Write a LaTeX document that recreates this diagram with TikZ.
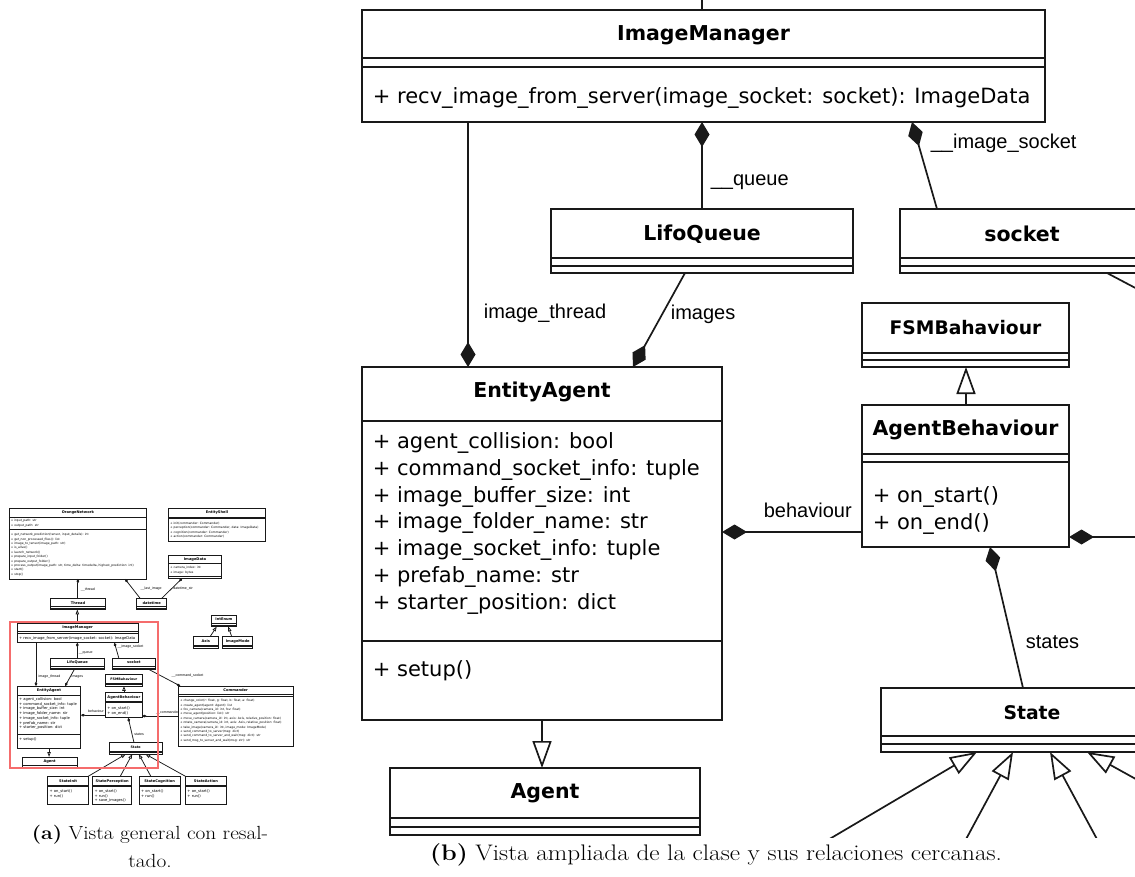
\documentclass[tikz,border=0pt]{standalone}
\usepackage{fontspec}
\usetikzlibrary{arrows.meta}
\newfontfamily\umlfont{DejaVu Sans}
\newfontfamily\lblfont{Liberation Sans}
\newfontfamily\capfont[FakeStretch=1.12]{Latin Modern Roman}
\definecolor{umlline}{RGB}{25,25,25}
\definecolor{hilite}{RGB}{245,108,108}

% one left-aligned column of member lines
\newcommand{\mrows}[1]{\begin{tabular}{@{}l@{}}#1\end{tabular}}
% size factor for arrow tips (changed per view)
\newcommand{\tipsc}{1}
% texts of classes lying outside the enlarged view are only set in the overview
\newif\iffullview
\newcommand{\offpanel}[1]{\iffullview#1\fi}

\tikzset{
  cls/.style={draw=umlline, fill=white, rectangle, inner sep=0pt, outer sep=0pt, anchor=north west},
  ctitle/.style={font=\umlfont\bfseries\fontsize{20.5}{24}\selectfont, inner sep=0pt},
  cmember/.style={font=\umlfont\fontsize{21}{26.7}\selectfont, inner sep=0pt, anchor=north west},
  csmall/.style={font=\umlfont\fontsize{17}{24.8}\selectfont, inner sep=0pt, anchor=north west},
  rlabel/.style={font=\lblfont\fontsize{20}{24}\selectfont, inner sep=0pt, anchor=west},
  sepline/.style={draw=umlline},
  comp/.style={draw=umlline, {Diamond[length=25pt,width=15pt,scale=\tipsc]}-},
  inh/.style={draw=umlline, -{Triangle[open,length=27pt,width=19pt,scale=\tipsc]}},
  capstyle/.style={inner sep=0pt},
}

% class box: name, x1, y1, x2, y2, title
\newcommand{\umlbox}[6]{%
  \node[cls, minimum width={((#4)-(#2))*1pt}, minimum height={((#5)-(#3))*1pt}] (#1) at (#2,#3) {};
  \node[ctitle] (#1-t) at ({((#2)+(#4))/2},{(#3)+25}) {#6};}
% compartment separator of a class box at height y
\newcommand{\clsep}[2]{\draw[sepline] (#1.west |- 0,#2) -- (#1.east |- 0,#2);}

\newcommand{\umldiagram}{%
  % ---------------- classes
  \umlbox{on}{315}{-639}{1095}{-239}{\offpanel{OrangeNetwork}}
  \clsep{on}{-588}\clsep{on}{-522}
  \offpanel{%
  \node[csmall] (on-a) at (325,-580.4) {\mrows{+ input\_path: str\\+ output\_path: str}};
  \node[csmall] (on-m) at (325,-501.4) {\mrows{%
    + get\_network\_prediction(tensor, input\_details): int\\
    + get\_non\_processed\_files(): list\\
    + image\_to\_tensor(image\_path: str)\\
    + is\_alive()\\
    + launch\_network()\\
    + prepare\_input\_folder()\\
    + prepare\_output\_folder()\\
    + process\_output(image\_path: str, time\_delta: timedelta, highest\_prediction: int)\\
    + start()\\
    + stop()}};}
  \umlbox{es}{1217}{-639}{1768}{-450}{\offpanel{EntityShell}}
  \clsep{es}{-588}\clsep{es}{-580}
  \offpanel{%
  \node[csmall] (es-m) at (1227,-566.4) {\mrows{%
    + init(commander: Commander)\\
    + perception(commander: Commander, data: ImageData)\\
    + cognition(commander: Commander)\\
    + action(commander: Commander)}};}
  \umlbox{idt}{1217}{-375}{1519}{-243}{\offpanel{ImageData}}
  \clsep{idt}{-326}\clsep{idt}{-256}
  \offpanel{%
  \node[csmall] (idt-a) at (1227,-313.4) {\mrows{+ camera\_index: int\\+ image: bytes}};}
  \umlbox{th}{551}{-130}{860}{-66}{\offpanel{Thread}}
  \clsep{th}{-82}\clsep{th}{-74}
  \umlbox{dt}{1038}{-130}{1208}{-66}{\offpanel{datetime}}
  \clsep{dt}{-82}\clsep{dt}{-74}
  \umlbox{im}{362}{10}{1045}{122}{ImageManager}
  \clsep{im}{58}\clsep{im}{67}
  \node[cmember] (im-m) at (372,84.3) {\mrows{+ recv\_image\_from\_server(image\_socket: socket): ImageData}};
  \umlbox{lq}{551}{209}{853}{273}{LifoQueue}
  \clsep{lq}{258}\clsep{lq}{266}
  \umlbox{so}{900}{209}{1144}{273}{socket}
  \clsep{so}{258}\clsep{so}{266}
  \umlbox{fsm}{862}{303}{1069}{367}{\fontsize{18.7}{22}\selectfont FSMBahaviour}
  \clsep{fsm}{353}\clsep{fsm}{360}
  \umlbox{ab}{862}{405}{1069}{547}{AgentBehaviour}
  \clsep{ab}{454}\clsep{ab}{462}
  \node[cmember] (ab-m) at (872,483.3) {\mrows{+ on\_start()\\+ on\_end()}};
  \umlbox{ea}{362}{367}{722}{720}{EntityAgent}
  \clsep{ea}{421}\clsep{ea}{641}
  \node[cmember] (ea-a) at (372,429.3) {\mrows{%
    + agent\_collision: bool\\
    + command\_socket\_info: tuple\\
    + image\_buffer\_size: int\\
    + image\_folder\_name: str\\
    + image\_socket\_info: tuple\\
    + prefab\_name: str\\
    + starter\_position: dict}};
  \node[cmember] (ea-m) at (372,657.3) {\mrows{+ setup()}};
  \umlbox{ag}{390}{768}{700}{835}{Agent}
  \clsep{ag}{818}\clsep{ag}{827}
  \umlbox{st}{881}{688}{1183}{752}{\fontsize{18.8}{22}\selectfont State}
  \clsep{st}{736}\clsep{st}{744}
  \umlbox{si}{535}{880}{765}{1035}{\offpanel{StateInit}}
  \clsep{si}{928}\clsep{si}{936}
  \umlbox{sp}{789}{880}{1010}{1035}{\offpanel{StatePerception}}
  \clsep{sp}{928}\clsep{sp}{936}
  \umlbox{sc}{1053}{880}{1283}{1035}{\offpanel{StateCognition}}
  \clsep{sc}{928}\clsep{sc}{936}
  \umlbox{sa}{1315}{880}{1545}{1035}{\offpanel{StateAction}}
  \clsep{sa}{928}\clsep{sa}{936}
  \offpanel{%
  \node[cmember] (si-m) at (545,950.3) {\mrows{+ on\_start()\\+ run()}};
  \node[cmember] (sp-m) at (799,950.3) {\mrows{+ on\_start()\\+ run()\\+ save\_images()}};
  \node[cmember] (sc-m) at (1063,950.3) {\mrows{+ on\_start()\\+ run()}};
  \node[cmember] (sa-m) at (1325,950.3) {\mrows{+ on\_start()\\+ run()}};}
  \umlbox{cm}{1273}{367}{1923}{706}{\offpanel{Commander}}
  \clsep{cm}{416}\clsep{cm}{424}
  \offpanel{%
  \node[csmall] (cm-m) at (1283,438.6) {\mrows{%
    + change\_color(r: float, g: float, b: float, a: float)\\
    + create\_agent(agent: Agent): list\\
    + fov\_camera(camera\_id: int, fov: float)\\
    + move\_agent(position: list): str\\
    + move\_camera(camera\_id: int, axis: Axis, relative\_position: float)\\
    + rotate\_camera(camera\_id: int, axis: Axis, relative\_position: float)\\
    + take\_image(camera\_id: int, image\_mode: ImageMode)\\
    + send\_command\_to\_server(msg: dict)\\
    + send\_command\_to\_server\_and\_wait(msg: dict): str\\
    + send\_msg\_to\_server\_and\_wait(msg: str): str}};}
  \umlbox{ie}{1463}{-34}{1601}{30}{\offpanel{IntEnum}}
  \clsep{ie}{14}\clsep{ie}{22}
  \umlbox{ax}{1358}{88}{1500}{152}{\offpanel{Axis}}
  \clsep{ax}{136}\clsep{ax}{144}
  \umlbox{imd}{1525}{88}{1695}{152}{\offpanel{ImageMode}}
  \clsep{imd}{136}\clsep{imd}{144}
  % ---------------- relations
  \draw[comp] (on.south -| 705,0) -- (th.north -| 705,0);
  \draw[comp] (on.south -| 972,0) -- (dt.north -| 1057,0);
  \draw[comp] (idt.south -| 1296,0) -- (dt.north -| 1180,0);
  \offpanel{%
  \node[rlabel] (l-thread) at (722,-181) {\_\_thread};
  \node[rlabel] (l-last) at (1060,-185) {\_\_last\_image};
  \node[rlabel] (l-dtstr) at (1245,-185) {datetime\_str};}
  \draw[inh] (im.north -| 702,0) -- (th.south -| 702,0);
  \draw[comp] (ea.north -| 468,0) -- (im.south -| 468,0);
  \node[rlabel] (l-ithread) at (483,313) {image\_thread};
  \draw[comp] (im.south -| 702,0) -- (lq.north -| 702,0);
  \node[rlabel] (l-queue) at (710,182) {\_\_queue};
  \draw[comp] (im.south -| 912,0) -- (so.north -| 937,0);
  \node[rlabel] (l-isock) at (930,143) {\_\_image\_socket};
  \draw[comp] (ea.north -| 633,0) -- (lq.south -| 685,0);
  \node[rlabel] (l-images) at (670,314) {images};
  \draw[comp] (cm.north -| 1285,0) -- (so.south -| 1107,0);
  \draw[inh] (ab.north -| 966,0) -- (fsm.south -| 966,0);
  \draw[comp] (ea.east |- 0,532) -- (ab.west |- 0,532);
  \node[rlabel] (l-beh) at (763,510) {behaviour};
  \draw[comp] (ab.east |- 0,537) -- (cm.west |- 0,537);
  \offpanel{%
  \node[rlabel] (l-csock) at (1236,310) {\_\_command\_socket};
  \node[rlabel] (l-cmd) at (1148,515) {\_\_commander};}
  \draw[comp] (ab.south -| 990,0) -- (st.north -| 1023,0);
  \node[rlabel] (l-states) at (1025,642) {states};
  \draw[inh] (ea.south -| 542,0) -- (ag.north -| 542,0);
  \draw[inh] (si.north -| 760,0) -- (st.south -| 977,0);
  \draw[inh] (sp.north -| 944,0) -- (st.south -| 1013,0);
  \draw[inh] (sc.north -| 1119,0) -- (st.south -| 1050,0);
  \draw[inh] (sa.north -| 1318,0) -- (st.south -| 1087,0);
  \draw[inh] (ax.north -| 1453,0) -- (ie.south -| 1491,0);
  \draw[inh] (imd.north -| 1576,0) -- (ie.south -| 1556,0);
}

\begin{document}
\begin{tikzpicture}[x=1pt,y=-1pt]
  \useasboundingbox (0,0) rectangle (1135,877);
  \fill[white] (0,0) rectangle (1135,877);

  % overview of the whole class diagram
  \begin{scope}[shift={(-46.7,621.2)}, scale=0.17668, transform shape,
                name prefix=ov-, line width=0.75pt]
    \def\tipsc{0.18}
    \fullviewtrue
    \umldiagram
  \end{scope}
  \draw[hilite, line width=2pt] (10,622) rectangle (158,768);

  % enlarged part around EntityAgent
  \begin{scope}[line width=1.7pt]
    \clip (355,0) rectangle (1135,837);
    \fullviewfalse
    \umldiagram
  \end{scope}

  % captions
  \node[capstyle, align=center, font=\capfont\fontsize{19}{28}\selectfont] (capa) at (150,846)
    {\textbf{(a)} Vista general con resal-\\tado.};
  \node[capstyle, font=\capfont\fontsize{22.5}{28}\selectfont] (capb) at (716,855)
    {\textbf{(b)} Vista ampliada de la clase y sus relaciones cercanas.};
\end{tikzpicture}
\end{document}
